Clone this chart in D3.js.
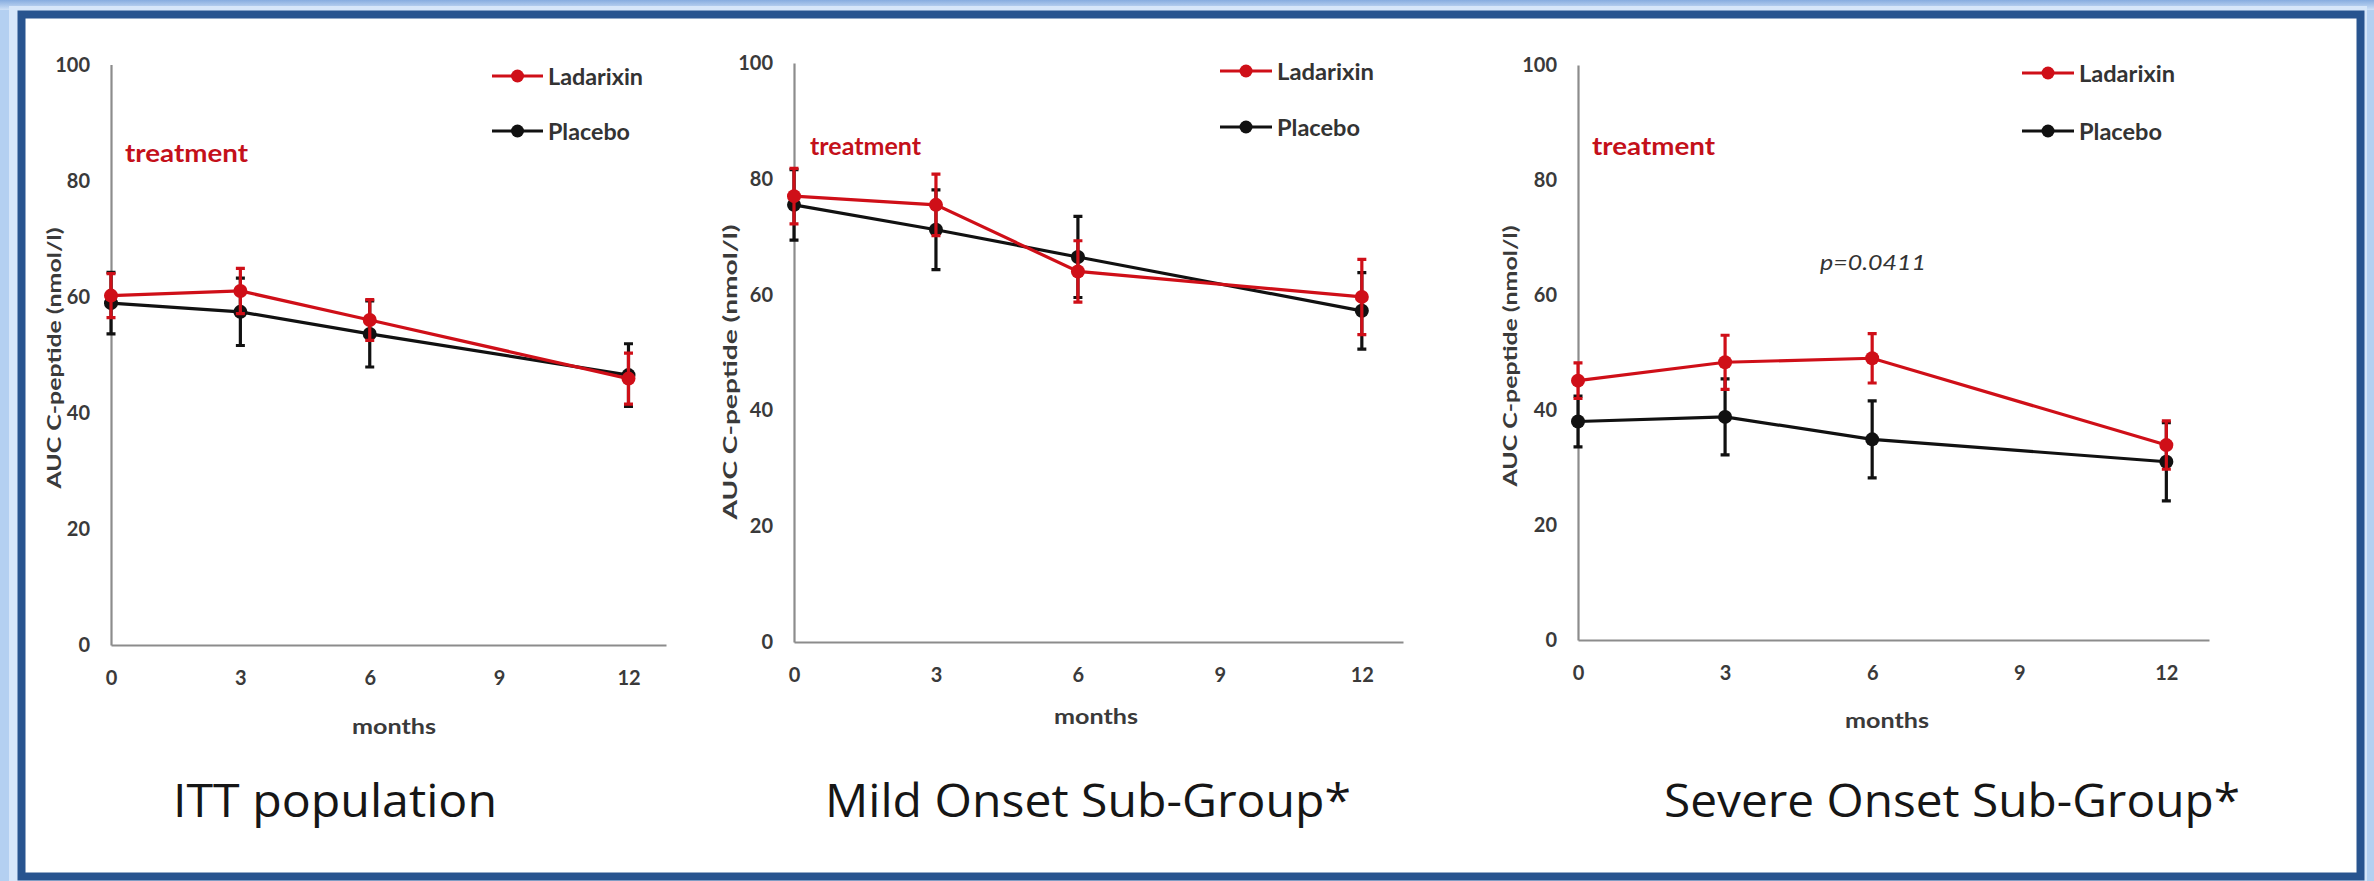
<!DOCTYPE html>
<html>
<head>
<meta charset="utf-8">
<script src="https://cdn.jsdelivr.net/npm/d3@7"></script>
<style>
  body { margin: 0; background: #aecbef; }
  svg { display: block; }
  text { font-family: Lato, 'Open Sans', sans-serif; }
</style>
</head>
<body>
<div id="chart"></div>
<script>
// values
var months = [0, 3, 6, 12];
var tickMonths = [0, 3, 6, 9, 12];
var yTicks = [0, 20, 40, 60, 80, 100];

var ittLadarixin = [60.2, 61.0, 56.0, 45.9];
var ittLadarixinErr = [3.8, 3.9, 3.5, 4.4];
var ittPlacebo = [58.9, 57.4, 53.6, 46.5];
var ittPlaceboErr = [5.3, 5.8, 5.7, 5.4];

var mildLadarixin = [77.0, 75.5, 64.0, 59.6];
var mildLadarixinErr = [4.8, 5.3, 5.3, 6.5];
var mildPlacebo = [75.5, 71.2, 66.5, 57.2];
var mildPlaceboErr = [6.1, 6.9, 7.0, 6.6];

var severeLadarixin = [45.1, 48.3, 49.0, 33.9];
var severeLadarixinErr = [3.1, 4.7, 4.3, 4.2];
var severePlacebo = [38.0, 38.8, 34.9, 31.0];
var severePlaceboErr = [4.4, 6.6, 6.7, 6.8];

var panelTitles = ['ITT population', 'Mild Onset Sub-Group*', 'Severe Onset Sub-Group*'];
var seriesNames = ['Ladarixin', 'Placebo'];
var yLabel = 'AUC C-peptide (nmol/l)';
var xLabel = 'months';
var noteText = 'treatment';
var pValueText = 'p=0.0411';

var red = '#cf0f18';
var black = '#111111';

function mkPanelModels() {
  return [
    {
      left: 111, right: 666, top: 64.6, bottom: 645,
      ladarixin: ittLadarixin, ladarixinErr: ittLadarixinErr,
      placebo: ittPlacebo, placeboErr: ittPlaceboErr,
      title: { cx: 335, len: 324 },
      note: { x: 125, y: 152, len: 123 },
      legend: { x0: 492, x1: 543, y: [76, 131], len: [95, 82] },
      ylab: { x: 54, cy: 358, len: 261 },
      xlab: { cx: 394, y: 725 }
    },
    {
      left: 794, right: 1403, top: 63, bottom: 642,
      ladarixin: mildLadarixin, ladarixinErr: mildLadarixinErr,
      placebo: mildPlacebo, placeboErr: mildPlaceboErr,
      title: { cx: 1088, len: 526 },
      note: { x: 810, y: 145, len: 111 },
      legend: { x0: 1220, x1: 1272, y: [71, 127], len: [97, 83] },
      ylab: { x: 730, cy: 372, len: 295 },
      xlab: { cx: 1096, y: 715 }
    },
    {
      left: 1578, right: 2209, top: 65, bottom: 640,
      ladarixin: severeLadarixin, ladarixinErr: severeLadarixinErr,
      placebo: severePlacebo, placeboErr: severePlaceboErr,
      title: { cx: 1952, len: 576 },
      note: { x: 1592, y: 145, len: 123 },
      legend: { x0: 2022, x1: 2074, y: [73, 131], len: [96, 83] },
      ylab: { x: 1510, cy: 356, len: 261 },
      xlab: { cx: 1887, y: 719 },
      pValue: { cx: 1873, y: 261, len: 106 }
    }
  ];
}

function drawFrame(svg) {
  var defs = svg.append('defs');
  var grad = defs.append('linearGradient').attr('id', 'topGrad')
    .attr('x1', 0).attr('y1', 0).attr('x2', 0).attr('y2', 1);
  grad.append('stop').attr('offset', 0).attr('stop-color', '#86acdf');
  grad.append('stop').attr('offset', 1).attr('stop-color', '#cfe1f7');

  svg.append('rect').attr('width', 2374).attr('height', 881).attr('fill', '#b4d0f1');
  svg.append('rect').attr('width', 2374).attr('height', 10).attr('fill', 'url(#topGrad)');
  svg.append('rect').attr('x', 9).attr('y', 6).attr('width', 2358).attr('height', 875)
    .attr('fill', '#d6e6f9');
  // dark window border + white page
  svg.append('rect')
    .attr('x', 21.5).attr('y', 14.5)
    .attr('width', 2339).attr('height', 862)
    .attr('fill', '#ffffff')
    .attr('stroke', '#28548f')
    .attr('stroke-width', 8);
}

function series(panel, name) {
  var vals = name === 'Ladarixin' ? panel.ladarixin : panel.placebo;
  var errs = name === 'Ladarixin' ? panel.ladarixinErr : panel.placeboErr;
  return months.map((m, i) => ({ month: m, value: vals[i], err: errs[i] }));
}

function drawPanel(svg, panel) {
  var g = svg.append('g');

  var x = d3.scaleLinear().domain([0, 12.87]).range([panel.left, panel.right]);
  var y = d3.scaleLinear().domain([0, 100]).range([panel.bottom, panel.top]);

  // axes
  var yAxis = g.append('g')
    .attr('transform', 'translate(' + panel.left + ',0)')
    .call(d3.axisLeft(y).tickValues(yTicks).tickSize(0).tickPadding(21));
  var xAxis = g.append('g')
    .attr('transform', 'translate(0,' + panel.bottom + ')')
    .call(d3.axisBottom(x).tickValues(tickMonths).tickSize(0).tickPadding(26));

  [yAxis, xAxis].forEach((a) => {
    a.select('.domain').attr('stroke', '#8c8c8c').attr('stroke-width', 2.2);
    a.selectAll('text')
      .attr('fill', '#3a3a3a')
      .attr('font-size', 20)
      .attr('font-weight', 700);
  });

  // axis titles
  g.append('text')
    .attr('transform', 'translate(' + panel.ylab.x + ',' + panel.ylab.cy + ') rotate(-90)')
    .attr('text-anchor', 'middle')
    .attr('dominant-baseline', 'central')
    .attr('font-size', 18)
    .attr('font-weight', 700)
    .attr('fill', '#3a3a3a')
    .attr('textLength', panel.ylab.len)
    .attr('lengthAdjust', 'spacingAndGlyphs')
    .text(yLabel);

  g.append('text')
    .attr('x', panel.xlab.cx)
    .attr('y', panel.xlab.y)
    .attr('text-anchor', 'middle')
    .attr('dominant-baseline', 'central')
    .attr('font-size', 21)
    .attr('font-weight', 700)
    .attr('fill', '#3a3a3a')
    .attr('textLength', 84)
    .attr('lengthAdjust', 'spacingAndGlyphs')
    .text(xLabel);

  // series: placebo underneath, ladarixin on top
  var line = d3.line().x((d) => x(d.month)).y((d) => y(d.value));

  ['Placebo', 'Ladarixin'].forEach((name) => {
    var data = series(panel, name);
    var color = name === 'Ladarixin' ? red : black;
    var sg = g.append('g');

    sg.selectAll('.err').data(data).join('path')
      .attr('class', 'err')
      .attr('d', (d) => {
        var cx = x(d.month), hi = y(d.value + d.err), lo = y(d.value - d.err);
        return 'M' + cx + ',' + hi + 'V' + lo +
          'M' + (cx - 4.5) + ',' + hi + 'H' + (cx + 4.5) +
          'M' + (cx - 4.5) + ',' + lo + 'H' + (cx + 4.5);
      })
      .attr('fill', 'none')
      .attr('stroke', color)
      .attr('stroke-width', 3.2);

    sg.append('path').datum(data)
      .attr('d', line)
      .attr('fill', 'none')
      .attr('stroke', color)
      .attr('stroke-width', 3.2);

    sg.selectAll('.dot').data(data).join('circle')
      .attr('class', 'dot')
      .attr('cx', (d) => x(d.month))
      .attr('cy', (d) => y(d.value))
      .attr('r', 7)
      .attr('fill', color);
  });

  // legend
  seriesNames.forEach((name, i) => {
    var color = name === 'Ladarixin' ? red : black;
    var ly = panel.legend.y[i];
    g.append('line')
      .attr('x1', panel.legend.x0).attr('x2', panel.legend.x1)
      .attr('y1', ly).attr('y2', ly)
      .attr('stroke', color).attr('stroke-width', 3.2);
    g.append('circle')
      .attr('cx', (panel.legend.x0 + panel.legend.x1) / 2)
      .attr('cy', ly).attr('r', 6.5)
      .attr('fill', color);
    g.append('text')
      .attr('x', panel.legend.x1 + 5)
      .attr('y', ly)
      .attr('dominant-baseline', 'central')
      .attr('font-size', 22)
      .attr('font-weight', 700)
      .attr('fill', '#333333')
      .attr('textLength', panel.legend.len[i])
      .attr('lengthAdjust', 'spacingAndGlyphs')
      .text(name);
  });

  // "treatment" note
  g.append('text')
    .attr('x', panel.note.x)
    .attr('y', panel.note.y)
    .attr('dominant-baseline', 'central')
    .attr('font-size', 25)
    .attr('font-weight', 700)
    .attr('fill', '#c4101a')
    .attr('textLength', panel.note.len)
    .attr('lengthAdjust', 'spacingAndGlyphs')
    .text(noteText);

  if (panel.pValue) {
    g.append('text')
      .attr('x', panel.pValue.cx)
      .attr('y', panel.pValue.y)
      .attr('text-anchor', 'middle')
      .attr('dominant-baseline', 'central')
      .attr('font-size', 21)
      .attr('font-style', 'italic')
      .attr('fill', '#333333')
      .attr('textLength', panel.pValue.len)
      .attr('lengthAdjust', 'spacingAndGlyphs')
      .text(pValueText);
  }

  // panel title (style, since the css rule would win over the attribute)
  g.append('text')
    .attr('x', panel.title.cx)
    .attr('y', 817)
    .attr('text-anchor', 'middle')
    .style('font-family', "'Open Sans', sans-serif")
    .attr('font-size', 46)
    .attr('fill', '#161616')
    .attr('textLength', panel.title.len)
    .attr('lengthAdjust', 'spacingAndGlyphs')
    .text(panel.title.text);
}

function main() {
  var svg = d3.select('#chart').append('svg')
    .attr('width', 2374)
    .attr('height', 881);

  drawFrame(svg);

  var panels = mkPanelModels();
  panels.forEach((p, i) => {
    p.title.text = panelTitles[i];
    drawPanel(svg, p);
  });
}

main();
</script>
</body>
</html>
